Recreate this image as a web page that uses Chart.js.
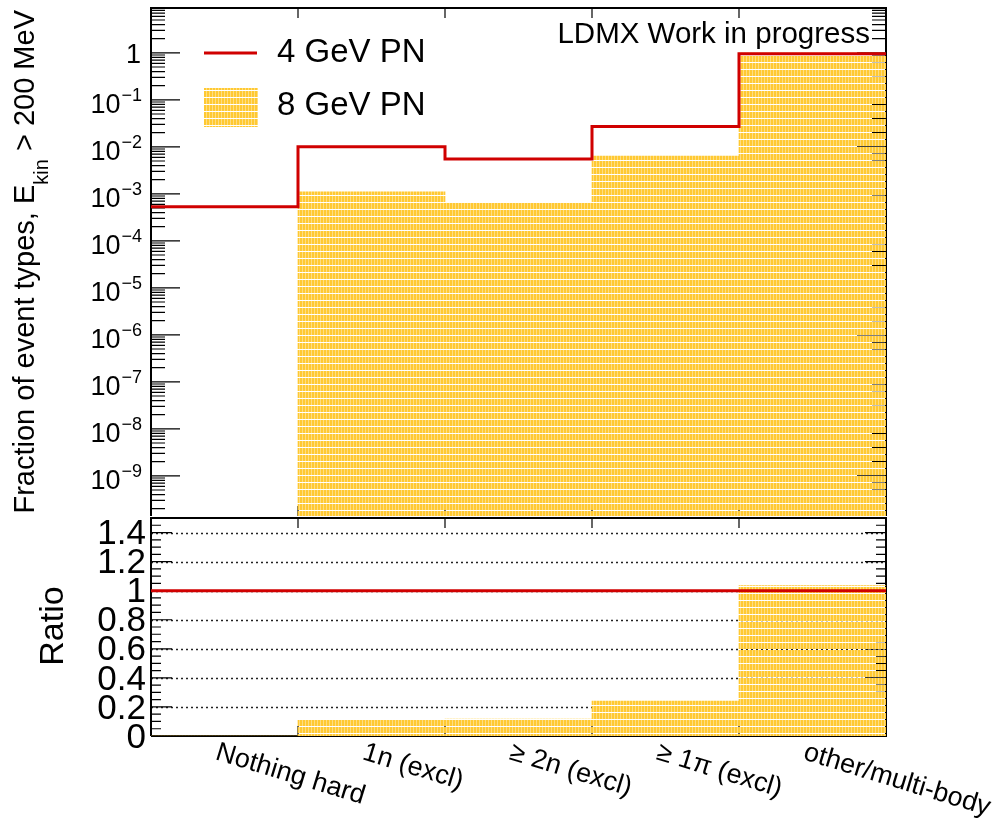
<!DOCTYPE html>
<html>
<head>
<meta charset="utf-8">
<script src="https://cdn.jsdelivr.net/npm/chart.js@4.4.0/dist/chart.umd.min.js"></script>
<style>
  body { margin: 0; background: #fff; }
  canvas { position: absolute; left: 0; }
  #top { top: 0; }
  #ratio { top: 517px; }
</style>
</head>
<body>
<canvas id="top" width="1003" height="517"></canvas>
<canvas id="ratio" width="1003" height="316"></canvas>
<script>
// event categories (bins)
var categories = ['Nothing hard', '1n (excl)', '\u2265 2n (excl)', '\u2265 1\u03c0 (excl)', 'other/multi-body'];
// fraction of events per category
var pn4 = [5.3e-4, 1.0e-2, 5.5e-3, 2.7e-2, 0.957];
var pn8 = [null, 1.1e-3, 6.6e-4, 6.4e-3, 0.99];
// ratio panel (8 GeV / 4 GeV)
var ratio4 = [1, 1, 1, 1, 1];
var ratio8 = [0, 0.115, 0.117, 0.24, 1.035];
// tick labels
var logTicks = [1, 1e-1, 1e-2, 1e-3, 1e-4, 1e-5, 1e-6, 1e-7, 1e-8, 1e-9];
var ratioTicks = [0, 0.2, 0.4, 0.6, 0.8, 1, 1.2, 1.4];

var FONT = '"Liberation Sans", Arial, sans-serif';
var RED = '#d00000';

function makePattern() {
    var c = document.createElement('canvas');
    c.width = 3; c.height = 7;
    var g = c.getContext('2d');
    g.fillStyle = '#ffc932';
    g.fillRect(0, 0, 3, 7);
    g.fillStyle = '#ffdd80';
    g.fillRect(2, 0, 1, 6);
    g.clearRect(0, 6, 3, 1);
    return g.createPattern(c, 'repeat');
}
var yellow = makePattern();

// histogram helpers: line steps start at each bin's left edge, bars sit at bin centres
function stepPoints(vals) {
    var pts = vals.map(function (v, i) { return { x: i, y: v }; });
    pts.push({ x: vals.length, y: vals[vals.length - 1] });
    return pts;
}
function binPoints(vals) {
    return vals.map(function (v, i) { return { x: i + 0.5, y: v }; });
}

function drawFrameAndTicks(chart, majors, minors, majLen, minLen, withBottom) {
    var ctx = chart.ctx, a = chart.chartArea, ys = chart.scales.y, xs = chart.scales.x;
    ctx.save();
    ctx.strokeStyle = '#000';
    ctx.lineWidth = 1.2;
    ctx.beginPath();
    function yt(v, len) {
        var y = ys.getPixelForValue(v);
        if (y < a.top - 0.5 || y > a.bottom + 0.5) return;
        ctx.moveTo(a.left, y); ctx.lineTo(a.left + len, y);
        ctx.moveTo(a.right, y); ctx.lineTo(a.right - len, y);
    }
    majors.forEach(function (v) { yt(v, majLen); });
    minors.forEach(function (v) { yt(v, minLen); });
    for (var i = 1; i < categories.length; i++) {
        var x = xs.getPixelForValue(i);
        ctx.moveTo(x, a.top); ctx.lineTo(x, a.top + 10);
        ctx.moveTo(x, a.bottom); ctx.lineTo(x, a.bottom - 10);
    }
    ctx.stroke();
    ctx.lineWidth = 2;
    ctx.beginPath();
    ctx.moveTo(a.left, a.bottom);
    ctx.lineTo(a.left, a.top);
    ctx.lineTo(a.right, a.top);
    ctx.lineTo(a.right, a.bottom);
    if (withBottom) ctx.lineTo(a.left, a.bottom);
    ctx.stroke();
    ctx.restore();
}

var topPlugin = {
    id: 'topDeco',
    beforeDatasetsDraw: function (chart) {
        var minors = [];
        for (var e = -10; e <= 0; e++) {
            for (var k = 2; k <= 9; k++) minors.push(k * Math.pow(10, e));
        }
        drawFrameAndTicks(chart, logTicks, minors, 29, 14, false);
    },
    afterDraw: function (chart) {
        var ctx = chart.ctx, ys = chart.scales.y;
        ctx.save();
        ctx.fillStyle = '#000';
        ctx.textAlign = 'right';
        ctx.textBaseline = 'alphabetic';
        // decade labels with superscript exponent
        logTicks.forEach(function (v) {
            var y = ys.getPixelForValue(v);
            var e = Math.round(Math.log10(v));
            if (e === 0) {
                ctx.font = '27px ' + FONT;
                ctx.fillText('1', 141, y + 10);
            } else {
                var exp = '\u2212' + (-e);
                ctx.font = '18px ' + FONT;
                var w = ctx.measureText(exp).width;
                ctx.fillText(exp, 142, y + 1);
                ctx.font = '27px ' + FONT;
                ctx.fillText('10', 142 - w - 1, y + 13);
            }
        });

        // y title: Fraction of event types, E_kin > 200 MeV
        var parts = [
            { t: 'Fraction of event types, E', f: '29px ', dy: 0 },
            { t: 'kin', f: '20px ', dy: 14 },
            { t: ' > 200 MeV', f: '29px ', dy: 0 }
        ];
        var W = 0;
        parts.forEach(function (p) { ctx.font = p.f + FONT; p.w = ctx.measureText(p.t).width; W += p.w; });
        ctx.translate(34, 10 + W);
        ctx.rotate(-Math.PI / 2);
        ctx.textAlign = 'left';
        var x = 0;
        parts.forEach(function (p) { ctx.font = p.f + FONT; ctx.fillText(p.t, x, p.dy); x += p.w; });
        ctx.restore();

        // legend
        ctx.save();
        ctx.strokeStyle = RED;
        ctx.lineWidth = 3;
        ctx.beginPath();
        ctx.moveTo(204, 53); ctx.lineTo(257, 53);
        ctx.stroke();
        ctx.fillStyle = yellow;
        ctx.fillRect(204, 88, 54, 39);
        ctx.fillStyle = '#000';
        ctx.font = '33px ' + FONT;
        ctx.textAlign = 'left';
        ctx.textBaseline = 'middle';
        ctx.fillText(chart.data.datasets[0].label, 277, 53);
        ctx.fillText(chart.data.datasets[1].label, 277, 106);
        ctx.textAlign = 'right';
        ctx.textBaseline = 'alphabetic';
        ctx.font = '29.5px ' + FONT;
        ctx.fillText('LDMX Work in progress', 870, 43);
        ctx.restore();
    }
};

var ratioPlugin = {
    id: 'ratioDeco',
    beforeDatasetsDraw: function (chart) {
        var ctx = chart.ctx, a = chart.chartArea, ys = chart.scales.y;
        // dotted grid lines
        ctx.save();
        ctx.strokeStyle = '#222';
        ctx.lineWidth = 1.5;
        ctx.setLineDash([2, 3]);
        ctx.beginPath();
        ratioTicks.forEach(function (v) {
            if (v <= 0) return;
            var y = Math.round(ys.getPixelForValue(v)) + 0.5;
            ctx.moveTo(a.left, y); ctx.lineTo(a.right, y);
        });
        ctx.stroke();
        ctx.restore();
        var minors = [];
        for (var i = 0; i <= 30; i++) minors.push(i * 0.05);
        drawFrameAndTicks(chart, ratioTicks, minors, 21, 10, true);
    },
    afterDraw: function (chart) {
        var ctx = chart.ctx, a = chart.chartArea, xs = chart.scales.x, ys = chart.scales.y;
        ctx.save();
        ctx.fillStyle = '#000';
        // tick labels
        ctx.font = '35px ' + FONT;
        ctx.textAlign = 'right';
        ctx.textBaseline = 'middle';
        ratioTicks.forEach(function (v) {
            ctx.fillText(String(v), 146, ys.getPixelForValue(v) + 2);
        });
        // axis title
        ctx.font = '34px ' + FONT;
        ctx.textAlign = 'center';
        ctx.translate(54, 626 - 517);
        ctx.rotate(-Math.PI / 2);
        ctx.fillText('Ratio', 0, 0);
        ctx.restore();

        // rotated category labels
        ctx.save();
        ctx.fillStyle = '#000';
        ctx.font = '27px ' + FONT;
        ctx.textAlign = 'left';
        ctx.textBaseline = 'top';
        categories.forEach(function (c, i) {
            ctx.save();
            ctx.translate(xs.getPixelForValue(i + 0.5) - 4, a.bottom + 3);
            ctx.rotate(17 * Math.PI / 180);
            ctx.fillText(c, 0, 0);
            ctx.restore();
        });
        ctx.restore();
    }
};

var xScale = {
    type: 'linear', min: 0, max: 5, offset: false, display: false,
    ticks: { stepSize: 1 }
};

new Chart(document.getElementById('top'), {
    type: 'bar',
    data: {
        datasets: [
            {
                type: 'line', label: '4 GeV PN', data: stepPoints(pn4),
                borderColor: RED, borderWidth: 3, pointRadius: 0, stepped: 'before', fill: false, order: 0
            },
            {
                type: 'bar', label: '8 GeV PN', data: binPoints(pn8),
                backgroundColor: yellow, borderWidth: 0, barPercentage: 1, categoryPercentage: 1, order: 1
            }
        ]
    },
    options: {
        responsive: false,
        animation: false,
        layout: { padding: { left: 0, right: 117, top: 8, bottom: 1 } },
        plugins: { legend: { display: false }, tooltip: { enabled: false } },
        scales: {
            x: xScale,
            y: {
                type: 'logarithmic', min: 1.4e-10, max: 9,
                afterBuildTicks: function (s) { s.ticks = logTicks.map(function (v) { return { value: v }; }); },
                ticks: { display: false },
                grid: { display: false },
                border: { display: false },
                afterFit: function (s) { s.width = 151; }
            }
        }
    },
    plugins: [topPlugin]
});

new Chart(document.getElementById('ratio'), {
    type: 'bar',
    data: {
        datasets: [
            {
                type: 'line', label: '4 GeV PN', data: stepPoints(ratio4),
                borderColor: RED, borderWidth: 3, pointRadius: 0, stepped: 'before', fill: false, order: 0
            },
            {
                type: 'bar', label: '8 GeV PN', data: binPoints(ratio8),
                backgroundColor: yellow, borderWidth: 0, barPercentage: 1, categoryPercentage: 1, order: 1
            }
        ]
    },
    options: {
        responsive: false,
        animation: false,
        layout: { padding: { left: 0, right: 117, top: 1, bottom: 97 } },
        plugins: { legend: { display: false }, tooltip: { enabled: false } },
        scales: {
            x: xScale,
            y: {
                type: 'linear', min: 0, max: 1.5,
                afterBuildTicks: function (s) { s.ticks = ratioTicks.map(function (v) { return { value: v }; }); },
                ticks: { display: false },
                grid: { display: false },
                border: { display: false },
                afterFit: function (s) { s.width = 151; }
            }
        }
    },
    plugins: [ratioPlugin]
});
</script>
</body>
</html>
